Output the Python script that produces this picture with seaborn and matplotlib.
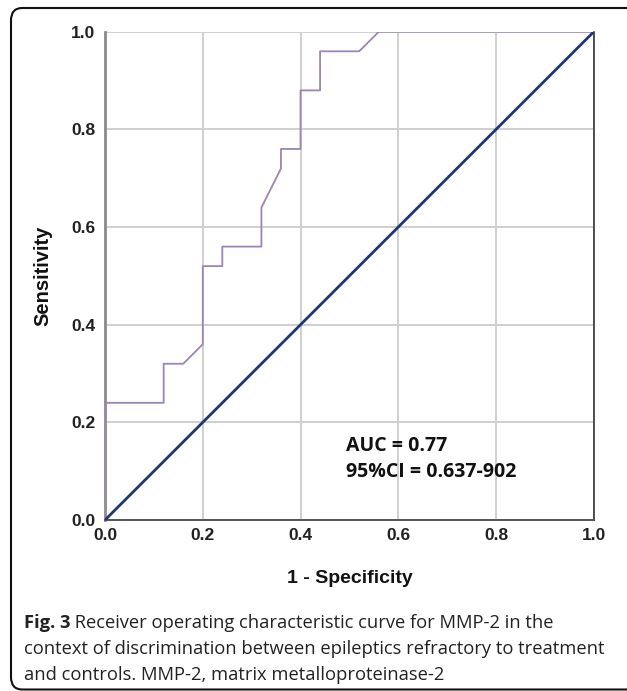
import matplotlib
matplotlib.use("Agg")
import matplotlib.pyplot as plt
import seaborn as sns
import pandas as pd
from matplotlib.patches import FancyBboxPatch

# --- DATA ---
fpr = [0.0, 0.0, 0.12, 0.12, 0.16, 0.20, 0.20, 0.24, 0.24, 0.32, 0.32, 0.36, 0.36,
       0.40, 0.40, 0.44, 0.44, 0.52, 0.56, 1.0]
tpr = [0.0, 0.24, 0.24, 0.32, 0.32, 0.36, 0.52, 0.52, 0.56, 0.56, 0.64, 0.72, 0.76,
       0.76, 0.88, 0.88, 0.96, 0.96, 1.0, 1.0]
ref_x = [0.0, 1.0]
ref_y = [0.0, 1.0]
ticks = [0.0, 0.2, 0.4, 0.6, 0.8, 1.0]
tick_labels = ["0.0", "0.2", "0.4", "0.6", "0.8", "1.0"]

auc_text = "AUC = 0.77\n95%CI = 0.637-902"
caption_bold = "Fig. 3"
caption_rest = (" Receiver operating characteristic curve for MMP-2 in the",
                "context of discrimination between epileptics refractory to treatment",
                "and controls. MMP-2, matrix metalloproteinase-2")

roc = pd.DataFrame({"fpr": fpr, "tpr": tpr})
diag = pd.DataFrame({"x": ref_x, "y": ref_y})

sns.set_theme(style="white")
plt.rcParams['font.family'] = ['Liberation Sans', 'DejaVu Sans']

fig = plt.figure(figsize=(6.27, 6.91), dpi=100)
ax = fig.add_axes([0.1675, 0.2475, 0.7795, 0.7065])

sns.lineplot(data=roc, x="fpr", y="tpr", sort=False, estimator=None,
             color="#9b84b8", linewidth=1.3, ax=ax, zorder=3)
sns.lineplot(data=diag, x="x", y="y", sort=False, estimator=None,
             color="#1b3875", linewidth=2.0, ax=ax, zorder=4)

ax.set_xlim(0, 1)
ax.set_ylim(0, 1)
ax.set_xticks(ticks)
ax.set_yticks(ticks)
ax.set_xticklabels(tick_labels, fontsize=12.5, fontweight="bold", color="#222222")
ax.set_yticklabels(tick_labels, fontsize=12.5, fontweight="bold", color="#222222")
ax.tick_params(axis="x", length=0, pad=6)
ax.tick_params(axis="y", length=0, pad=7)
ax.grid(True, color="#cfcfcf", linewidth=1.4, zorder=0)
ax.set_axisbelow(True)

ax.spines["top"].set_visible(False)
ax.spines["left"].set_color("#8a8a8a")
ax.spines["left"].set_linewidth(2.0)
ax.spines["bottom"].set_color("#555555")
ax.spines["bottom"].set_linewidth(1.4)
ax.spines["right"].set_color("#333333")
ax.spines["right"].set_linewidth(1.2)

ax.set_xlabel("1 - Specificity", fontsize=14, fontweight="bold", color="#111111", va="center")
ax.set_ylabel("Sensitivity", fontsize=14.5, fontweight="bold", color="#111111", va="center")
ax.xaxis.set_label_coords(0.5, -0.120)
ax.yaxis.set_label_coords(-0.127, 0.5)

ax.text(0.493, 0.125, auc_text, transform=ax.transAxes, fontsize=14,
        fontweight="bold", family=["Open Sans", "DejaVu Sans"], color="#111111",
        va="center", ha="left", linespacing=1.45)

# caption
cap_kw = dict(fontsize=13.2, family=["Open Sans", "DejaVu Sans"], color="#222222",
              va="center", ha="left")
x0 = 24 / 627
t = fig.text(x0, 1 - 623 / 691, caption_bold, fontweight="bold", **cap_kw)
fig.canvas.draw()
bb = t.get_window_extent()
fig.text(bb.x1 / fig.bbox.width, 1 - 623 / 691, caption_rest[0], **cap_kw)
fig.text(x0, 1 - 649 / 691, caption_rest[1], **cap_kw)
fig.text(x0, 1 - 675 / 691, caption_rest[2], **cap_kw)

# rounded frame around the whole figure
frame = FancyBboxPatch((11 / 627, 1.5 / 691), 1.02, 1 - 8 / 691 - 1.5 / 691,
                       boxstyle="round,pad=0,rounding_size=0.018",
                       transform=fig.transFigure, fill=False, edgecolor="#111111",
                       linewidth=1.5, clip_on=False)
fig.patches.append(frame)

fig.savefig("out.png", dpi=100)
